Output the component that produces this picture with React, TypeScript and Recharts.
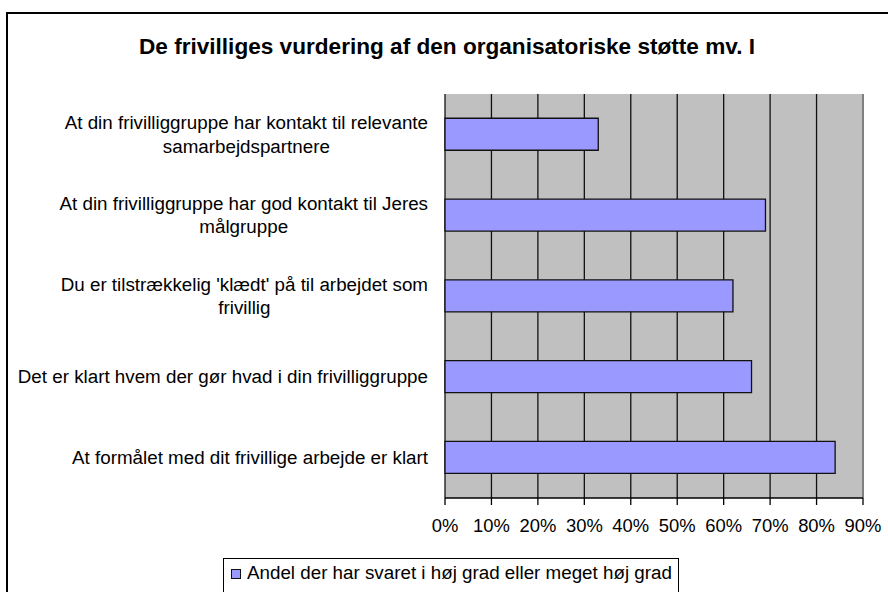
import React from "react";
import {
  BarChart,
  Bar,
  XAxis,
  YAxis,
  CartesianGrid,
  ReferenceLine,
} from "recharts";

// Labels, split the way the original wraps them
const categoryLines: string[][] = [
  ["At din frivilliggruppe har kontakt til relevante", "samarbejdspartnere"],
  ["At din frivilliggruppe har god kontakt til Jeres", "målgruppe"],
  ["Du er tilstrækkelig 'klædt' på til arbejdet som", "frivillig"],
  ["Det er klart hvem der gør hvad i din frivilliggruppe"],
  ["At formålet med dit frivillige arbejde er klart"],
];
const categories = categoryLines.map((l) => l.join(" "));
const shares = [33, 69, 62, 66, 84];
const xTicks = [0, 10, 20, 30, 40, 50, 60, 70, 80, 90];
const boundaryTicks = [0, 1, 2, 3, 4, 5];

const title = "De frivilliges vurdering af den organisatoriske støtte mv. I";
const seriesName = "Andel der har svaret i høj grad eller meget høj grad";

const data = categories.map((name, i) => ({ name, value: shares[i] }));

const FONT = '"Liberation Sans", Arial, sans-serif';
const FS = 18.4; // x tick labels
const LFS = 18.8; // category labels and legend

let ctx: CanvasRenderingContext2D | null = null;
function measure(text: string) {
  if (!ctx) ctx = document.createElement("canvas").getContext("2d");
  if (!ctx) return text.length * LFS * 0.45;
  ctx.font = `${LFS}px ${FONT}`;
  return ctx.measureText(text).width;
}

const CategoryTick = (props: any) => {
  const { x, y, payload } = props;
  const idx = categories.indexOf(payload.value);
  const lines = categoryLines[idx] || [payload.value];
  const w = Math.max(...lines.map(measure));
  const cx = x - w / 2;
  const lh = 23.5;
  return (
    <g>
      {lines.map((line, i) => (
        <text
          key={i}
          x={cx}
          y={y + (i - (lines.length - 1) / 2) * lh + 6.5}
          textAnchor="middle"
          fontFamily={FONT}
          fontSize={LFS}
          fill="#000"
        >
          {line}
        </text>
      ))}
    </g>
  );
};

export default function App() {
  return (
    <div
      style={{
        position: "fixed",
        left: 0,
        top: 0,
        width: 888,
        height: 592,
        overflow: "hidden",
        background: "#fff",
      }}
    >
      {/* outer chart frame, right and bottom edges run off the page */}
      <div
        style={{
          position: "absolute",
          left: 6,
          top: 12,
          width: 900,
          height: 700,
          border: "2px solid #000",
        }}
      />
      <div
        style={{
          position: "absolute",
          left: 0,
          top: 34,
          width: 894,
          textAlign: "center",
          fontFamily: FONT,
          fontWeight: "bold",
          fontSize: 22.6,
          lineHeight: "26px",
          whiteSpace: "nowrap",
        }}
      >
        {title}
      </div>

      <div style={{ position: "absolute", left: 0, top: 0 }}>
        <BarChart
          width={888}
          height={592}
          data={data}
          layout="vertical"
          margin={{ top: 94, right: 25, bottom: 54, left: 0 }}
          barCategoryGap="30%"
        >
          <CartesianGrid
            yAxisId="cat"
            horizontal={false}
            fill="#C0C0C0"
            fillOpacity={1}
            stroke="#111"
            strokeWidth={1.3}
          />
          <XAxis
            type="number"
            domain={[0, 90]}
            ticks={xTicks}
            interval={0}
            tickFormatter={(v) => `${v}%`}
            tick={{ fontSize: FS, fontFamily: FONT, fill: "#000" }}
            axisLine={{ stroke: "#000", strokeWidth: 1.3 }}
            tickLine={{ stroke: "#000", strokeWidth: 1.3 }}
            tickSize={7}
            tickMargin={14}
            height={40}
          />
          <YAxis
            yAxisId="cat"
            type="category"
            dataKey="name"
            width={445}
            axisLine={false}
            tickLine={false}
            tickSize={0}
            tickMargin={17}
            interval={0}
            tick={<CategoryTick />}
          />
          <YAxis
            yAxisId="b"
            type="number"
            domain={[0, 5]}
            ticks={boundaryTicks}
            width={0}
            tick={false}
            tickSize={8}
            axisLine={{ stroke: "#000", strokeWidth: 1.3 }}
            tickLine={{ stroke: "#000", strokeWidth: 1.3 }}
          />
          <ReferenceLine yAxisId="b" y={5} stroke="#808080" strokeWidth={2} />
          <ReferenceLine yAxisId="b" x={90} stroke="#808080" strokeWidth={2} />
          <Bar
            yAxisId="cat"
            dataKey="value"
            name={seriesName}
            fill="#9999FF"
            stroke="#111"
            strokeWidth={1.3}
            isAnimationActive={false}
          />
        </BarChart>
      </div>

      {/* legend */}
      <div
        style={{
          position: "absolute",
          left: 223,
          top: 558,
          width: 456,
          height: 60,
          border: "1px solid #000",
          background: "#fff",
          boxSizing: "border-box",
          padding: "3px 0 0 7px",
          fontFamily: FONT,
          fontSize: LFS,
          lineHeight: "22px",
          whiteSpace: "nowrap",
        }}
      >
        <span
          style={{
            display: "inline-block",
            width: 8,
            height: 8,
            background: "#9999FF",
            border: "1px solid #111",
            marginRight: 6,
            verticalAlign: "0px",
          }}
        />
        {seriesName}
      </div>
    </div>
  );
}
